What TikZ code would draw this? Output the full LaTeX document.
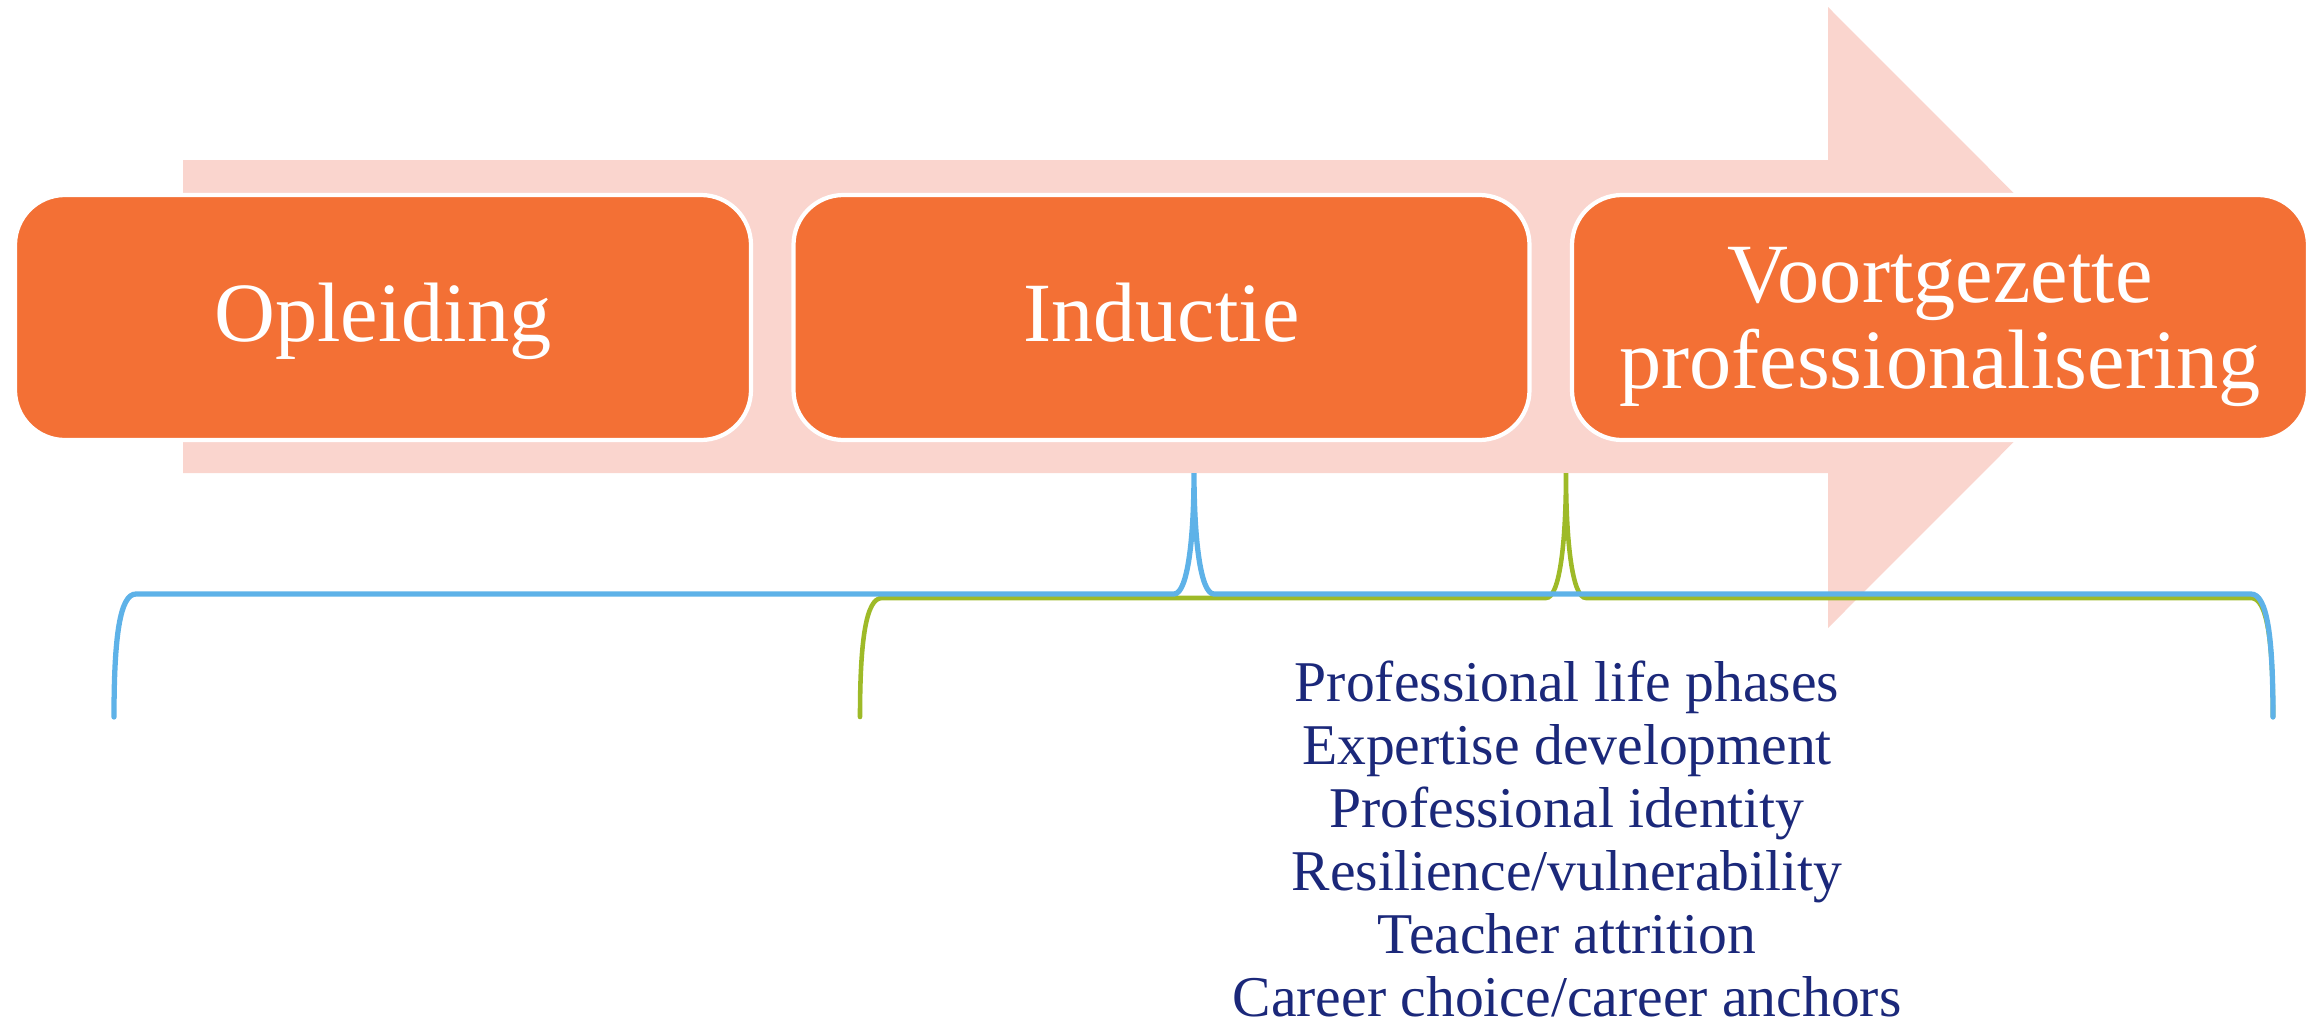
\documentclass[tikz,border=0pt]{standalone}
\usepackage{fontspec}
\setmainfont{Liberation Serif}
\definecolor{phaseorange}{RGB}{243,112,53}
\definecolor{arrowpink}{RGB}{250,213,206}
\definecolor{braceblue}{RGB}{94,178,232}
\definecolor{bracegreen}{RGB}{158,186,40}
\definecolor{topicnavy}{RGB}{27,40,122}

\tikzset{phase/.style = {shape = rectangle,
                         rounded corners = 0.5cm,
                         fill = phaseorange,
                         draw = white,
                         line width = 1.2pt,
                         minimum width = 7.36cm,
                         minimum height = 2.45cm,
                         text = white,
                         align = center,
                         font = \fontsize{24}{24.5}\selectfont},
         phaseone/.style = {phase,
                         text height = 18pt,
                         text depth = 4.6pt},
         brace/.style = {line width = 1.3pt,
                         line cap = round}}

\begin{document}
\begin{tikzpicture}
		\useasboundingbox (0,0) rectangle (23.17,-10.30);
		% background arrow
		\fill[arrowpink] (1.83,-1.60) -- (18.28,-1.60) -- (18.28,-0.07)
			-- (21.38,-3.175) -- (18.28,-6.28) -- (18.28,-4.73)
			-- (1.83,-4.73) -- cycle;
		% phases
		\node[phaseone] (opl) at (3.83,-3.175) {Opleiding};
		\node[phaseone] (ind) at (11.615,-3.175) {Inductie};
		\node[phase] (vpr) at (19.40,-3.175) {\rule{0pt}{21pt}Voortgezette\\professionalisering};
		% braces
		\coordinate (gl) at (8.60,-7.17);
		\coordinate (gt) at (15.66,-4.73);
		\coordinate (gr) at (22.73,-7.17);
		\coordinate (bl) at (1.14,-7.17);
		\coordinate (bt) at (11.94,-4.73);
		\coordinate (br) at (22.73,-7.17);
		\draw[brace, bracegreen] (gl) .. controls (8.60,-6.4) and (8.66,-5.98) .. (8.82,-5.98)
			-- (15.46,-5.98) .. controls (15.60,-5.98) and (15.66,-5.4) .. (gt)
			.. controls (15.66,-5.4) and (15.72,-5.98) .. (15.86,-5.98)
			-- (22.51,-5.98) .. controls (22.67,-5.98) and (22.73,-6.4) .. (gr);
		\draw[brace, braceblue, line width = 1.5pt] (bl) .. controls (1.14,-6.36) and (1.20,-5.94) .. (1.36,-5.94)
			-- (11.74,-5.94) .. controls (11.88,-5.94) and (11.94,-5.36) .. (bt)
			.. controls (11.94,-5.36) and (12.00,-5.94) .. (12.14,-5.94)
			-- (22.51,-5.94) .. controls (22.67,-5.94) and (22.73,-6.36) .. (br);
		% topics
		\node[text = topicnavy, align = center, anchor = base, inner sep = 0pt,
			font = \fontsize{16.4}{17.9}\selectfont] (topics) at (15.67,-10.16)
			{Professional life phases\\Expertise development\\Professional identity\\
			 Resilience/vulnerability\\Teacher attrition\\Career choice/career anchors};
	\end{tikzpicture}
\end{document}
